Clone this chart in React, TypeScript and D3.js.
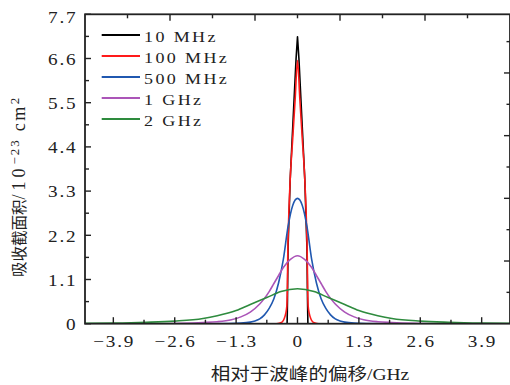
import React from 'react';
import * as d3 from 'd3';

// ---------- data ----------
const seriesNames = ['10 MHz', '100 MHz', '500 MHz', '1 GHz', '2 GHz'];
const seriesColors = ['#000000', '#ff1a1a', '#2058b0', '#ab55b8', '#2e8b3e'];

const x10MHz = [-4.5, -0.22, -0.212, -0.2, -0.155, -0.08, -0.03, 0, 0.03, 0.08, 0.155, 0.2, 0.212, 0.22, 4.5];
const y10MHz = [0, 0, 0.6, 1.9, 3.58, 5.4, 6.6, 7.14, 6.6, 5.4, 3.58, 1.9, 0.6, 0, 0];

const x100MHz = [-4.5, -0.45, -0.37, -0.32, -0.28, -0.25, -0.225, -0.215, -0.205, -0.19, -0.155, -0.1, -0.05, 0,
  0.05, 0.1, 0.155, 0.19, 0.205, 0.215, 0.225, 0.25, 0.28, 0.32, 0.37, 0.45, 4.5];
const y100MHz = [0, 0, 0.02, 0.05, 0.13, 0.25, 0.45, 0.9, 1.8, 2.5, 3.58, 4.63, 5.58, 6.55,
  5.58, 4.63, 3.58, 2.5, 1.8, 0.9, 0.45, 0.25, 0.13, 0.05, 0.02, 0, 0];

const x500MHz = [-4.5, -2.0, -1.5, -1.2, -1.0, -0.9, -0.8, -0.7, -0.6, -0.5, -0.4, -0.3, -0.2, -0.1, 0,
  0.1, 0.2, 0.3, 0.4, 0.5, 0.6, 0.7, 0.8, 0.9, 1.0, 1.2, 1.5, 2.0, 4.5];
const y500MHz = [0, 0, 0.005, 0.015, 0.04, 0.07, 0.12, 0.22, 0.38, 0.62, 1.02, 1.6, 2.42, 2.95, 3.12,
  2.95, 2.42, 1.6, 1.02, 0.62, 0.38, 0.22, 0.12, 0.07, 0.04, 0.015, 0.005, 0, 0];

const x1GHz = [-4.5, -3.0, -2.5, -2.0, -1.7, -1.4, -1.2, -1.0, -0.8, -0.7, -0.6, -0.5, -0.4, -0.3, -0.15, 0,
  0.15, 0.3, 0.4, 0.5, 0.6, 0.7, 0.8, 1.0, 1.2, 1.4, 1.7, 2.0, 2.5, 3.0, 4.5];
const y1GHz = [0, 0, 0.01, 0.03, 0.05, 0.1, 0.17, 0.29, 0.49, 0.63, 0.8, 1.0, 1.2, 1.4, 1.6, 1.69,
  1.6, 1.4, 1.2, 1.0, 0.8, 0.63, 0.49, 0.29, 0.17, 0.1, 0.05, 0.03, 0.01, 0, 0];

const x2GHz = [-4.5, -3.9, -3.2, -2.6, -2.0, -1.7, -1.3, -1.0, -0.65, -0.35, 0,
  0.35, 0.65, 1.0, 1.3, 1.7, 2.0, 2.6, 3.2, 3.9, 4.5];
const y2GHz = [0.008, 0.015, 0.035, 0.065, 0.13, 0.2, 0.33, 0.48, 0.65, 0.8, 0.87,
  0.8, 0.65, 0.48, 0.33, 0.2, 0.13, 0.065, 0.035, 0.015, 0.008];

const seriesX = [x10MHz, x100MHz, x500MHz, x1GHz, x2GHz];
const seriesY = [y10MHz, y100MHz, y500MHz, y1GHz, y2GHz];

const xTicks = [-3.9, -2.6, -1.3, 0, 1.3, 2.6, 3.9];
const xTickLabels = ['−3.9', '−2.6', '−1.3', '0', '1.3', '2.6', '3.9'];
const xMinorTicks = [-3.25, -1.95, -0.65, 0.65, 1.95, 3.25];
const yTicks = [0, 1.1, 2.2, 3.3, 4.4, 5.5, 6.6, 7.7];
const yTickLabels = ['0', '1.1', '2.2', '3.3', '4.4', '5.5', '6.6', '7.7'];
const yMinorTicks = [0.55, 1.65, 2.75, 3.85, 4.95, 6.05, 7.15];
const topMajorTicks = [-2.7, -0.9, 0.9, 2.7];
const topMinorTicks = [-3.6, -1.8, 0, 1.8, 3.6];
const rightTicks = [0.78, 1.56, 2.34, 3.12, 3.9, 4.68, 5.46, 6.24, 7.02];

const xTitle = '相对于波峰的偏移/GHz';
const yTitleCJK = '吸收截面积';

// ---------- layout ----------
const W = 510, H = 385;
const L = 85, R = 510, T = 14.3, B = 323.7;
const FONT = "'Liberation Serif', 'Noto Sans CJK SC', serif";
const SX = 1.2;
const TEXT_FILL = '#222';

const STxt = ({ x, y, anchor, children, size = 16, ls = 1.5 }: any) => (
  <text
    transform={`translate(${x},${y}) scale(${SX},1)`}
    textAnchor={anchor}
    fontFamily={FONT}
    fontSize={size}
    letterSpacing={ls}
    fill={TEXT_FILL}
  >
    {children}
  </text>
);

export default function App() {
  const xs = d3.scaleLinear().domain([-4.5, 4.5]).range([L, R]);
  const ys = d3.scaleLinear().domain([0, 7.7]).range([B, T]);

  const lineFor = (i: number) => {
    const pts = seriesX[i].map((xv, k) => [xv, seriesY[i][k]] as [number, number]);
    const gen = d3
      .line<[number, number]>()
      .x((d) => xs(d[0]))
      .y((d) => ys(d[1]))
      .curve(i === 0 ? d3.curveLinear : d3.curveMonotoneX);
    return gen(pts) || '';
  };

  const axisColor = '#222';
  const legendX0 = 101.7, legendX1 = 140, legendY0 = 35, legendDy = 21;

  return (
    <svg
      width={W}
      height={H}
      style={{ position: 'absolute', left: 0, top: 0, background: '#fff' }}
    >
      <defs>
        <clipPath id="plotclip">
          <rect x={L} y={T - 5} width={R - L} height={B - T + 5} />
        </clipPath>
      </defs>

      {/* curves */}
      <g clipPath="url(#plotclip)">
        {seriesNames.map((n, i) => (
          <path key={n} d={lineFor(i)} fill="none" stroke={seriesColors[i]} strokeWidth={1.6} strokeLinejoin="round" />
        ))}
      </g>

      {/* frame */}
      <rect x={L} y={T} width={R - L} height={B - T} fill="none" stroke={axisColor} strokeWidth={1.8} />

      {/* bottom ticks */}
      {xTicks.map((t) => (
        <line key={'xb' + t} x1={xs(t)} x2={xs(t)} y1={B} y2={B - 6.5} stroke={axisColor} strokeWidth={1.4} />
      ))}
      {xMinorTicks.map((t) => (
        <line key={'xbm' + t} x1={xs(t)} x2={xs(t)} y1={B} y2={B - 4} stroke={axisColor} strokeWidth={1.4} />
      ))}
      {/* top ticks */}
      {topMajorTicks.map((t) => (
        <line key={'xt' + t} x1={xs(t)} x2={xs(t)} y1={T} y2={T + 6.5} stroke={axisColor} strokeWidth={1.4} />
      ))}
      {topMinorTicks.map((t) => (
        <line key={'xtm' + t} x1={xs(t)} x2={xs(t)} y1={T} y2={T + 4} stroke={axisColor} strokeWidth={1.4} />
      ))}
      {/* left ticks */}
      {yTicks.map((t) => (
        <line key={'yl' + t} x1={L} x2={L + 6} y1={ys(t)} y2={ys(t)} stroke={axisColor} strokeWidth={1.4} />
      ))}
      {yMinorTicks.map((t) => (
        <line key={'ylm' + t} x1={L} x2={L + 4} y1={ys(t)} y2={ys(t)} stroke={axisColor} strokeWidth={1.4} />
      ))}
      {/* right ticks */}
      {rightTicks.map((t, k) => (
        <line key={'yr' + t} x1={R} x2={R - (k % 2 === 1 ? 6 : 3.5)} y1={ys(t)} y2={ys(t)} stroke={axisColor} strokeWidth={1.4} />
      ))}

      {/* tick labels */}
      {xTicks.map((t, k) => (
        <STxt key={'xl' + t} x={xs(t) + 0.8} y={347.3} anchor="middle">
          {xTickLabels[k]}
        </STxt>
      ))}
      {yTicks.map((t, k) => (
        <STxt key={'yll' + t} x={77.5} y={ys(t) + 6.3 + (k === yTicks.length - 1 ? 2.5 : 0)} anchor="end">
          {yTickLabels[k]}
        </STxt>
      ))}

      {/* axis titles */}
      <text
        transform={`translate(${310},${380}) scale(1.15,1)`}
        textAnchor="middle"
        fontFamily={FONT}
        fontSize={17}
        fill={TEXT_FILL}
      >
        {xTitle}
      </text>
      <text transform={`translate(25,277) rotate(-90)`} fontFamily={FONT} fill={TEXT_FILL}>
        <tspan fontSize={15.5}>{yTitleCJK}</tspan>
        <tspan fontSize={18} letterSpacing={4}>/10</tspan>
        <tspan fontSize={13} letterSpacing={2} dy={-6}>−23</tspan>
        <tspan fontSize={18} letterSpacing={2.5} dy={6}> cm</tspan>
        <tspan fontSize={13} dy={-6}>2</tspan>
      </text>

      {/* legend */}
      {seriesNames.map((n, i) => (
        <g key={'lg' + n}>
          <line
            x1={legendX0}
            x2={legendX1}
            y1={legendY0 + i * legendDy}
            y2={legendY0 + i * legendDy}
            stroke={seriesColors[i]}
            strokeWidth={1.8}
          />
          <STxt x={144} y={legendY0 + i * legendDy + 7} anchor="start" size={15} ls={2}>
            {n}
          </STxt>
        </g>
      ))}
    </svg>
  );
}
